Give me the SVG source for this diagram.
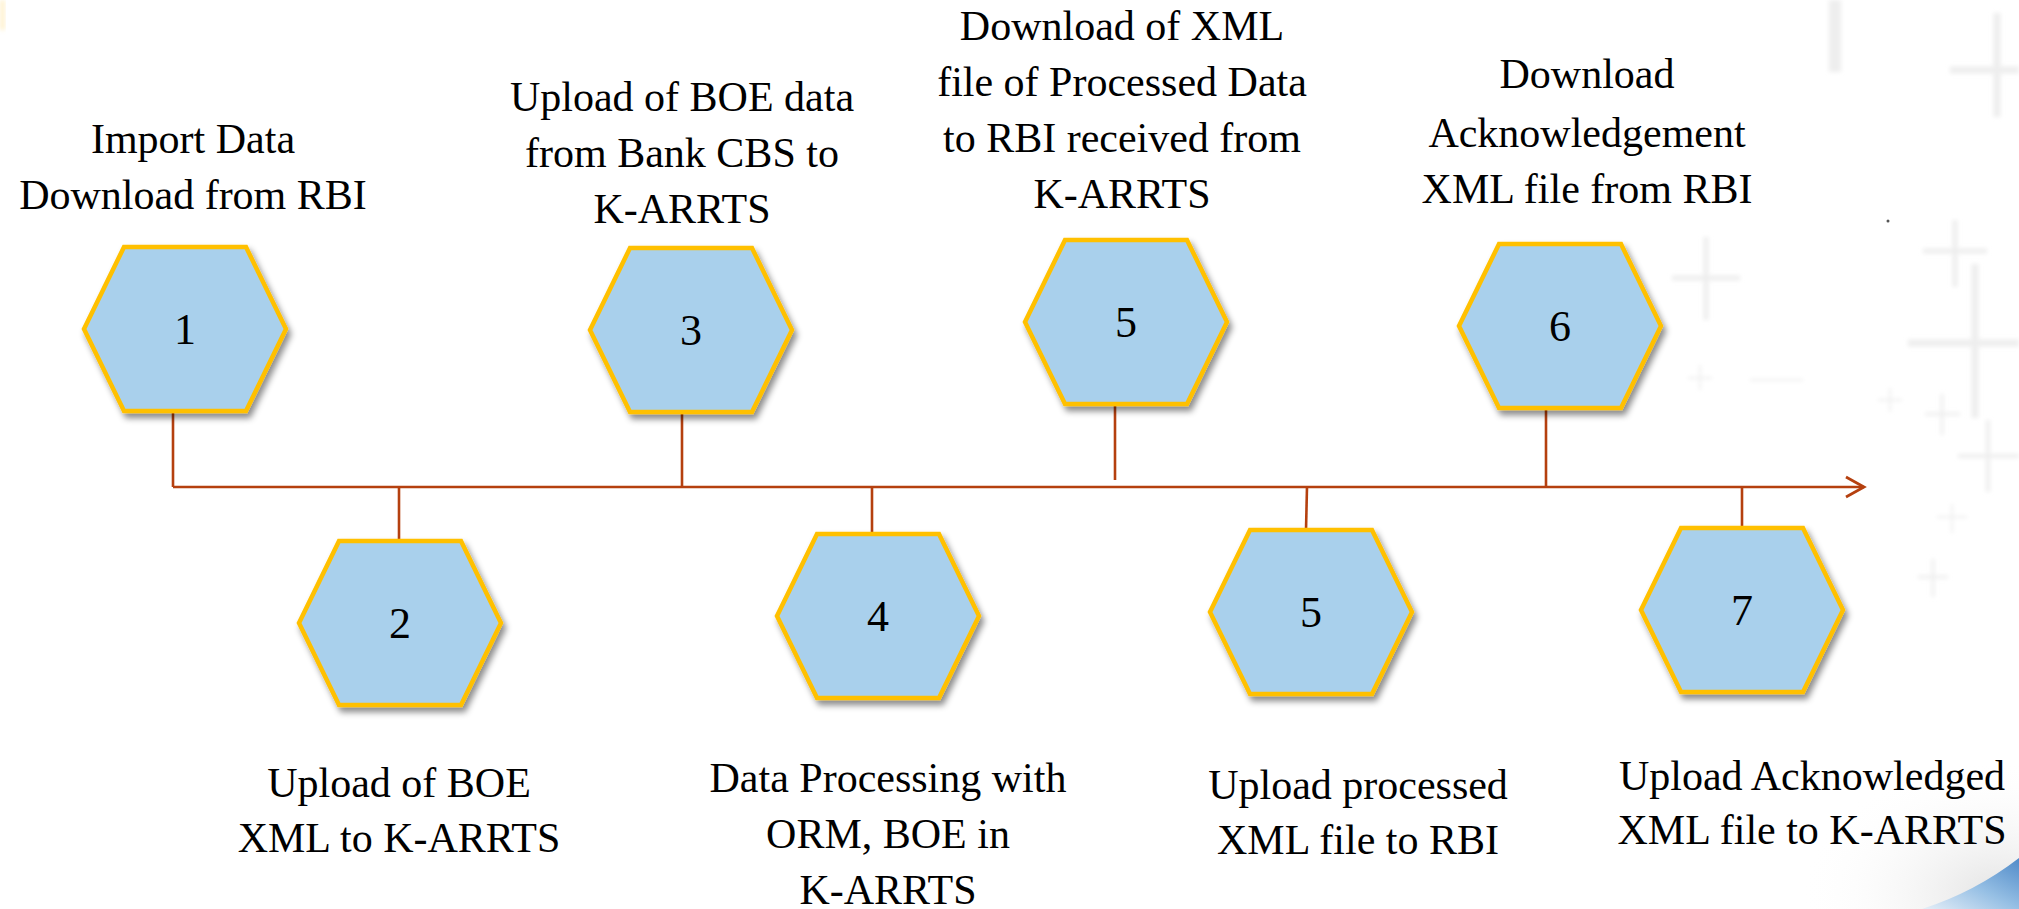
<svg xmlns="http://www.w3.org/2000/svg" width="2019" height="909" viewBox="0 0 2019 909">
<defs>
<style>
.hex{fill:#A9D0EC;stroke:#FFC000;stroke-width:4.5;stroke-linejoin:miter;filter:url(#sh)}
.num{font-family:"Liberation Serif",serif;font-size:44px;fill:#000;text-anchor:middle}
.lbl{font-family:"Liberation Serif",serif;font-size:42px;fill:#000;text-anchor:middle}
.con{stroke:#B5400F;stroke-width:2.6;fill:none}
.bg{stroke:#EEEEEE;fill:none;filter:url(#bl)}
</style>
<filter id="sh" x="-20%" y="-20%" width="140%" height="150%">
<feDropShadow dx="3" dy="5" stdDeviation="3" flood-color="#000" flood-opacity="0.45"/>
</filter>
<filter id="bl" x="-20%" y="-20%" width="140%" height="140%">
<feGaussianBlur stdDeviation="2"/>
</filter>
<linearGradient id="sw" x1="0" y1="1" x2="1" y2="0">
<stop offset="0" stop-color="#E4EEF8"/>
<stop offset="0.5" stop-color="#8DBBE4"/>
<stop offset="1" stop-color="#3E7FC4"/>
</linearGradient>
<radialGradient id="gr" cx="0.9" cy="0.9" r="0.9">
<stop offset="0" stop-color="#D8D8D8" stop-opacity="0.7"/>
<stop offset="1" stop-color="#FFFFFF" stop-opacity="0"/>
</radialGradient>
<marker id="arr" markerWidth="24" markerHeight="24" refX="20" refY="12" orient="auto" markerUnits="userSpaceOnUse">
<path d="M2,2 L20,12 L2,22" fill="none" stroke="#B5400F" stroke-width="2.8"/>
</marker>
<path id="hx" d="M-61,-82 H61 L101,0 L61,82 H-61 L-101,0 Z"/>
</defs>
<rect width="2019" height="909" fill="#FFFFFF"/>
<g id="background">
<rect x="1800" y="760" width="219" height="149" fill="url(#gr)"/>
<path d="M1922,909 Q1975,892 2019,858 L2019,909 Z" fill="url(#sw)" opacity="0.9"/>
<rect x="0" y="0" width="5" height="30" fill="#FFE9B0" opacity="0.6" filter="url(#bl)"/>
<g class="bg">
<path d="M1835,0 V72" stroke-width="12"/>
<path d="M1997,13 V117 M1950,70 H2019" stroke-width="7"/>
<path d="M1955,220 V287 M1923,251 H1987" stroke-width="5"/>
<path d="M1706,237 V320 M1672,278 H1740" stroke-width="5"/>
<path d="M1975,264 V418 M1908,343 H2019" stroke-width="7"/>
<path d="M1988,420 V492 M1958,456 H2019" stroke-width="4"/>
<path d="M1942,394 V435 M1925,414 H1960" stroke-width="3"/>
<path d="M1890,388 V412 M1878,400 H1902" stroke-width="2"/>
<path d="M1952,504 V533 M1937,517 H1967" stroke-width="2"/>
<path d="M1933,559 V597 M1918,577 H1948" stroke-width="3"/>
<path d="M1700,365 V390 M1688,378 H1712" stroke-width="2"/>
<path d="M1750,380 H1803" stroke-width="2"/>
</g>
<circle cx="1888" cy="221" r="1.5" fill="#555"/>
</g>
<g id="connectors">
<path class="con" d="M173,487 H1864" marker-end="url(#arr)"/>
<path class="con" d="M173,412 V487"/>
<path class="con" d="M399,487 V543"/>
<path class="con" d="M682,412 V487"/>
<path class="con" d="M872,487 V532"/>
<path class="con" d="M1115,404 V480"/>
<path class="con" d="M1307,487 L1306,530"/>
<path class="con" d="M1546,409 V487"/>
<path class="con" d="M1742,487 V529"/>
</g>
<g id="node1">
<use href="#hx" class="hex" transform="translate(185,329)"/>
<text class="num" x="185" y="344">1</text>
<text class="lbl" x="193"><tspan x="193" y="153">Import Data</tspan><tspan x="193" y="209">Download from RBI</tspan></text>
</g>
<g id="node2">
<use href="#hx" class="hex" transform="translate(400,623)"/>
<text class="num" x="400" y="638">2</text>
<text class="lbl"><tspan x="399" y="797">Upload of BOE</tspan><tspan x="399" y="852">XML to K-ARRTS</tspan></text>
</g>
<g id="node3">
<use href="#hx" class="hex" transform="translate(691,330)"/>
<text class="num" x="691" y="345">3</text>
<text class="lbl"><tspan x="682" y="111">Upload of BOE data</tspan><tspan x="682" y="167">from Bank CBS to</tspan><tspan x="682" y="223">K-ARRTS</tspan></text>
</g>
<g id="node4">
<use href="#hx" class="hex" transform="translate(878,616)"/>
<text class="num" x="878" y="631">4</text>
<text class="lbl"><tspan x="888" y="792">Data Processing with</tspan><tspan x="888" y="848">ORM, BOE in</tspan><tspan x="888" y="904">K-ARRTS</tspan></text>
</g>
<g id="node5a">
<use href="#hx" class="hex" transform="translate(1126,322)"/>
<text class="num" x="1126" y="337">5</text>
<text class="lbl"><tspan x="1122" y="40">Download of XML</tspan><tspan x="1122" y="96">file of Processed Data</tspan><tspan x="1122" y="152">to RBI received from</tspan><tspan x="1122" y="208">K-ARRTS</tspan></text>
</g>
<g id="node5b">
<use href="#hx" class="hex" transform="translate(1311,612)"/>
<text class="num" x="1311" y="627">5</text>
<text class="lbl"><tspan x="1358" y="799">Upload processed</tspan><tspan x="1358" y="854">XML file to RBI</tspan></text>
</g>
<g id="node6">
<use href="#hx" class="hex" transform="translate(1560,326)"/>
<text class="num" x="1560" y="341">6</text>
<text class="lbl"><tspan x="1587" y="88">Download</tspan><tspan x="1587" y="147">Acknowledgement</tspan><tspan x="1587" y="203">XML file from RBI</tspan></text>
</g>
<g id="node7">
<use href="#hx" class="hex" transform="translate(1742,610)"/>
<text class="num" x="1742" y="625">7</text>
<text class="lbl"><tspan x="1812" y="790">Upload Acknowledged</tspan><tspan x="1812" y="844">XML file to K-ARRTS</tspan></text>
</g>
</svg>
